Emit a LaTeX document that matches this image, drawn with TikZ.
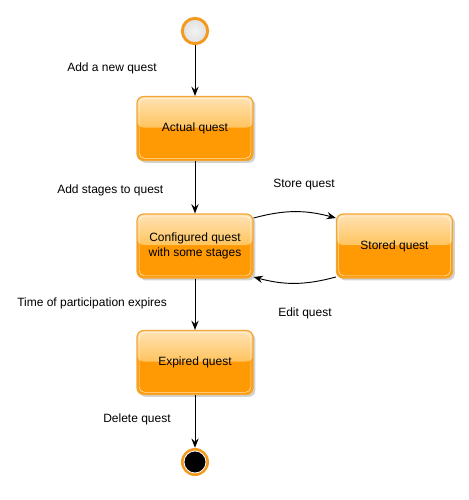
\documentclass[tikz,border=0pt]{standalone}
\usepackage{fontspec}
\setmainfont{Liberation Sans}
\usetikzlibrary{shadows,arrows.meta,calc}
\definecolor{boxlow}{HTML}{FF9A05}
\definecolor{boxtop}{HTML}{FFE2B5}
\definecolor{boxmid}{HTML}{FFC45E}
\definecolor{boxborder}{HTML}{F2A634}
\definecolor{ringor}{HTML}{F39A1E}
\definecolor{startfill}{HTML}{E0E0E0}
\tikzset{
  stbox/.style={draw=boxborder, line width=0.9pt, rounded corners=5pt,
    minimum width=87pt, minimum height=48pt, align=center, inner sep=2pt,
    font=\fontsize{9}{11}\selectfont,
    drop shadow={shadow xshift=1.8pt, shadow yshift=-1.8pt, opacity=0.35, fill=gray},
    path picture={
      \fill[boxlow] (path picture bounding box.south west) rectangle (path picture bounding box.north east);
      \shade[top color=boxtop, bottom color=boxmid]
        ($(path picture bounding box.west)+(0,0.75pt)$) rectangle (path picture bounding box.north east);
      \draw[white, opacity=0.7, line width=0.5pt, rounded corners=4pt]
        ($(path picture bounding box.south west)+(1.6pt,1.6pt)$) rectangle ($(path picture bounding box.north east)+(-1.6pt,-1.6pt)$);
    }},
  lbl/.style={anchor=west, inner sep=0pt, font=\fontsize{9}{11}\selectfont},
  conn/.style={-{Stealth[length=7pt,width=5.5pt,inset=2.5pt]}, line width=0.7pt, black}
}
\begin{document}
\begin{tikzpicture}[x=0.75pt, y=-0.75pt]
\useasboundingbox (0,0) rectangle (468,500);
% start
\node[circle, minimum size=19pt, inner sep=0pt, draw=ringor, line width=2.2pt,
  inner color=white!60!startfill, outer color=startfill] (start) at (195,31) {};
% states
\node[stbox] (actual) at (195,128.5) {Actual quest};
\node[stbox] (conf) at (195,246) {Configured quest\\with some stages};
\node[stbox] (stored) at (394.5,246) {Stored quest};
\node[stbox] (expired) at (195,362.5) {Expired quest};
% end
\node[circle, minimum size=21pt, inner sep=0pt, fill=ringor] (endo) at (195,462) {};
\node[circle, minimum size=16.5pt, inner sep=0pt, fill=black, draw=white, line width=0.6pt] (endi) at (endo) {};
% connectors
\draw[conn] (start) -- (actual);
\draw[conn] (actual) -- (conf);
\draw[conn] ($(conf.east)+(0,-28)$) to[bend left=15] ($(stored.west)+(0,-28)$);
\draw[conn] ($(stored.west)+(0,31)$) to[bend left=15] ($(conf.east)+(0,31)$);
\draw[conn] (conf) -- (expired);
\draw[conn] (expired) -- (endo);
% labels
\node[lbl] (l1) at (67,68.5) {Add a new quest};
\node[lbl] (l2) at (57,190) {Add stages to quest};
\node[lbl] (l3) at (273,185) {Store quest};
\node[lbl] (l4) at (17,303.5) {Time of participation expires};
\node[lbl] (l5) at (278,313) {Edit quest};
\node[lbl] (l6) at (103,419) {Delete quest};
\end{tikzpicture}
\end{document}
